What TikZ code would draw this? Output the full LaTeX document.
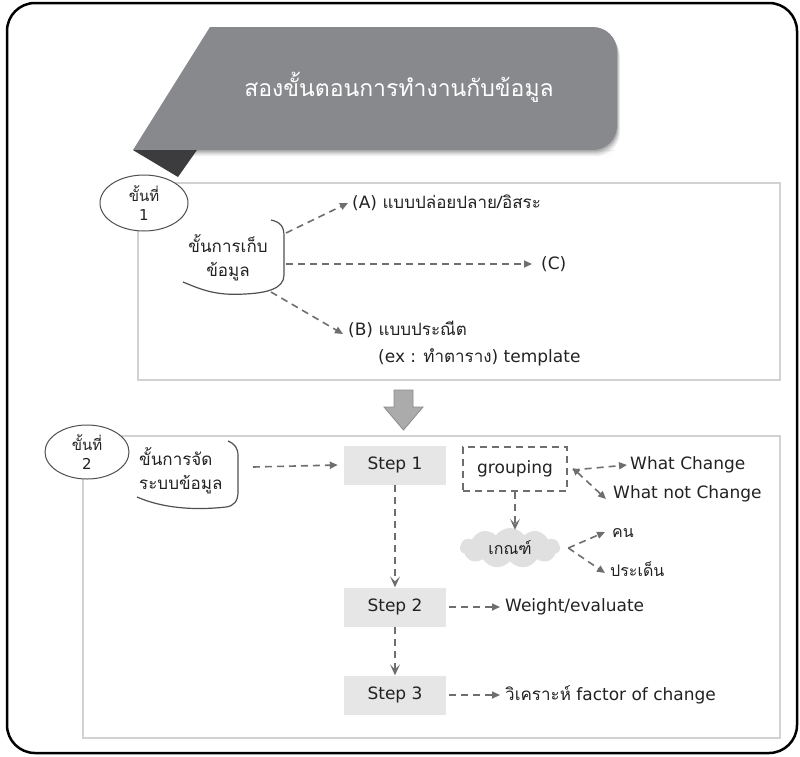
\documentclass[tikz,border=0pt]{standalone}
\usepackage{fontspec}
\setmainfont{DejaVu Sans}
\newfontfamily\thai[Script=Thai]{Loma}
\usetikzlibrary{arrows.meta,shapes.geometric,shapes.symbols}

\definecolor{bannergrey}{HTML}{88898D}
\definecolor{folddark}{HTML}{3C3C3E}
\definecolor{panelline}{HTML}{D2D2D2}
\definecolor{ovalline}{HTML}{505050}
\definecolor{arrowgrey}{HTML}{6E6E6E}
\definecolor{stepfill}{HTML}{E6E6E6}
\definecolor{cloudfill}{HTML}{E0E0E0}
\definecolor{textdark}{HTML}{222222}

\tikzset{
  panel/.style={draw=panelline, line width=2.5pt},
  tagoval/.style={ellipse, draw=ovalline, fill=white, line width=1pt,
    inner sep=0pt, align=center, font=\fontsize{15}{19}\selectfont, text=textdark},
  callout/.style={draw=ovalline, line width=1.2pt},
  flow/.style={draw=arrowgrey, line width=1.6pt, dash pattern=on 7pt off 5pt,
    -{Triangle[length=8pt,width=7pt]}},
  flowdown/.style={flow, -{Stealth[length=11pt,width=10pt,inset=5pt]}},
  txt/.style={inner sep=0pt, font=\fontsize{17}{24}\selectfont, text=textdark},
  label/.style={txt, anchor=west},
  stepbox/.style={fill=stepfill, minimum width=102pt, minimum height=39pt,
    inner sep=0pt, font=\fontsize{17}{20}\selectfont, text=textdark},
}

\begin{document}
\begin{tikzpicture}[x=1pt,y=-1pt]
\useasboundingbox (0,0) rectangle (800,756);

% outer frame
\draw[line width=2.5pt, rounded corners=28pt] (7,3) rectangle (797,753);

% soft shadow under the title banner
\foreach \d/\o in {6/0.06,4.5/0.08,3/0.10,1.5/0.12}{
  \fill[black, opacity=\o] (210+\d,27+\d) -- (590,27+\d) [rounded corners=24pt]
    -- (617+\d*0.5,27+\d) -- (617+\d*0.5,150+\d) -- (590,150+\d) [sharp corners]
    -- (133+\d,150+\d) -- cycle;
}
% title banner and its folded tip
\fill[bannergrey] (210,27) -- (590,27) [rounded corners=24pt] -- (617,27)
  -- (617,150) -- (590,150) [sharp corners] -- (133,150) -- cycle;
\node[text=white, font=\thai\fontsize{23}{28}\selectfont] (title) at (399,87)
  {สองขั้นตอนการทำงานกับข้อมูล};

% ---------- stage 1 ----------
\draw[panel] (138,183) rectangle (780,380);
\fill[folddark] (133,150) -- (197,150) -- (178,177) -- cycle;
\node[tagoval, minimum width=88pt, minimum height=56pt] (tag1) at (144,203)
  {{\thai ขั้นที่}\\1};

\node[txt, align=center, font=\thai\fontsize{17}{24}\selectfont] (collect)
  at (228,258) {ขั้นการเก็บ\\ข้อมูล};
\draw[callout] (183,282) .. controls (200,289) and (215,296) .. (245,294)
  .. controls (266,293) and (284,289) .. (284,275) -- (284,236)
  .. controls (284,226) and (280,222) .. (271,220);
\coordinate (ca) at (286,233);
\coordinate (cc) at (286,264);
\coordinate (cb) at (271,292);

\node[label] (optA) at (352,203) {(A) {\thai แบบปล่อยปลาย/อิสระ}};
\node[label] (optC) at (541,264) {(C)};
\node[label] (optB) at (348,329) {(B) {\thai แบบประณีต}};
\node[label] (optBx) at (378,357) {(ex : {\thai ทำตาราง}) template};

\draw[flow] (ca) -- ([xshift=-4pt]optA.west);
\draw[flow] (cc) -- ([xshift=-9pt]optC.west);
\draw[flow] (cb) -- ([xshift=-5pt,yshift=-5pt]optB.west);

% ---------- transition arrow ----------
\fill[draw=arrowgrey!80, fill=black!33, line width=0.8pt]
  (394,390) -- (413,390) -- (413,407) -- (423,407) -- (403.5,430)
  -- (384,407) -- (394,407) -- cycle;

% ---------- stage 2 ----------
\draw[panel] (83,436) rectangle (780,738);
\node[tagoval, minimum width=84pt, minimum height=54pt] (tag2) at (87,452)
  {{\thai ขั้นที่}\\2};

\node[txt, anchor=north west, align=left, font=\thai\fontsize{17}{24}\selectfont]
  (arrange) at (139,447) {ขั้นการจัด\\ระบบข้อมูล};
\draw[callout] (137,497) .. controls (160,507) and (190,511) .. (226,507)
  .. controls (234,506) and (238,501) .. (238,492) -- (238,456)
  .. controls (238,448) and (235,444) .. (228,441);
\coordinate (ar) at (253,467);

\node[stepbox] (s1) at (395,465) {Step 1};
\node[stepbox] (s2) at (395,607) {Step 2};
\node[stepbox] (s3) at (395,695) {Step 3};

\node[draw=arrowgrey, line width=1.4pt, dash pattern=on 7pt off 5pt,
  minimum width=104pt, minimum height=44pt, inner sep=0pt,
  font=\fontsize{17}{20}\selectfont, text=textdark] (grp) at (515,469) {grouping};

\node[cloud, cloud puffs=11, cloud puff arc=110, aspect=2.6, fill=cloudfill,
  minimum width=100pt, minimum height=40pt, inner sep=0pt,
  font=\thai\fontsize{16}{20}\selectfont, text=textdark] (crit) at (510,548) {เกณฑ์};

\node[label] (wc)  at (630,465) {What Change};
\node[label] (wnc) at (613,494) {What not Change};
\node[label, font=\thai\fontsize{16}{20}\selectfont] (kon) at (612,533) {คน};
\node[label, font=\thai\fontsize{16}{20}\selectfont] (issue) at (610,569) {ประเด็น};
\node[label] (weight) at (505,607) {Weight/evaluate};
\node[label] (analyse) at (505,695) {{\thai วิเคราะห์} factor of change};

\draw[flow] (ar) -- ([xshift=-6pt]s1.west);
\coordinate (gx) at ([xshift=5pt,yshift=-1pt]grp.east);
\draw[flow] (gx) -- ([xshift=-3pt]wc.west);
\draw[flow, {Triangle[length=7pt,width=7pt]}-{Triangle[length=8pt,width=7pt]}]
  ([yshift=2pt]gx) -- ([xshift=-7pt,yshift=-5pt]wnc.west);
\draw[flowdown] (grp.south) -- ([yshift=-2pt]grp.south |- crit.north);
\coordinate (cx) at ([xshift=8pt]crit.east);
\draw[flow] (cx) -- ([xshift=-7pt,yshift=1pt]kon.west);
\draw[flow] (cx) -- ([xshift=-5pt,yshift=-4pt]issue.west);

\draw[flowdown] (s1.south) -- (s2.north);
\draw[flowdown] (s2.south) -- (s3.north);
\draw[flow] ([xshift=3pt]s2.east) -- ([xshift=-5pt]weight.west);
\draw[flow] ([xshift=3pt]s3.east) -- ([xshift=-5pt]analyse.west);
\end{tikzpicture}
\end{document}
